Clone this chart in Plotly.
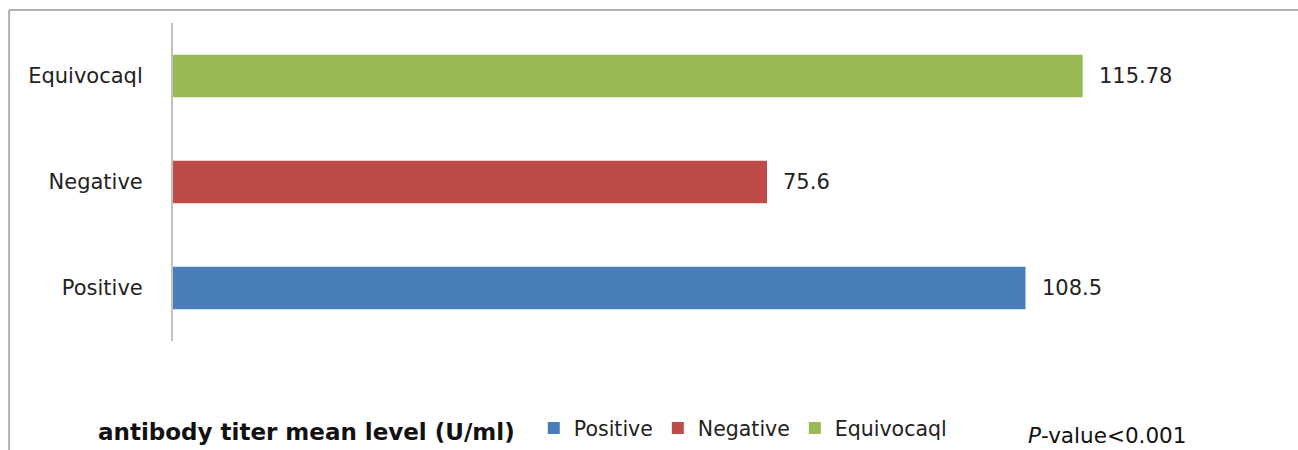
import plotly.graph_objects as go

categories = ["Positive", "Negative", "Equivocaql"]
values = [108.5, 75.6, 115.78]
value_labels = ["108.5", "75.6", "115.78"]
colors = ["#4a7ebb", "#be4b48", "#98b954"]
x_title = "antibody titer mean level (U/ml)"
p_text = "<i>P</i>-value<0.001"

FONT = "DejaVu Sans"
fig = go.Figure()
for c, v, col in zip(categories, values, colors):
    fig.add_trace(go.Bar(y=[c], x=[v], orientation="h", name=c,
                         marker=dict(color=col, line=dict(width=0)), width=0.4))

for c, v, t in zip(categories, values, value_labels):
    fig.add_annotation(x=v, y=c, text=t, showarrow=False, xanchor="left",
                       xshift=14, font=dict(family=FONT, size=21, color="#222"))

fig.add_annotation(xref="paper", yref="paper", x=0.1215, y=-0.286, text="<b>" + x_title + "</b>",
                   xanchor="center", yanchor="middle",
                   showarrow=False, font=dict(family=FONT, size=23, color="#111"))
fig.add_annotation(xref="paper", yref="paper", x=0.8495, y=-0.297, text=p_text,
                   xanchor="center", yanchor="middle",
                   showarrow=False, font=dict(family=FONT, size=21.5, color="#111"))

# frame
fig.add_shape(type="line", xref="paper", yref="paper", x0=-0.149, x1=-0.149, y0=-0.35, y1=1.041,
              line=dict(color="#b0b0b0", width=2))
fig.add_shape(type="line", xref="paper", yref="paper", x0=-0.149, x1=1.05, y0=1.041, y1=1.041,
              line=dict(color="#b0b0b0", width=2))

fig.update_layout(
    width=1298, height=450,
    margin=dict(l=173, r=25, t=23, b=109, autoexpand=False),
    plot_bgcolor="white", paper_bgcolor="white",
    barmode="overlay",
    showlegend=True,
    legend=dict(orientation="h", x=0.328, y=-0.274, xanchor="left", yanchor="middle",
                font=dict(family=FONT, size=20.5, color="#222"), traceorder="normal"),
    xaxis=dict(range=[0, 140], showgrid=False, showticklabels=False, zeroline=False,
               showline=False, ticks=""),
    yaxis=dict(categoryorder="array", categoryarray=categories, range=[-0.5, 2.5],
               showgrid=False, showline=True, linecolor="#c0c0c0", linewidth=2,
               ticks="", ticklabelstandoff=24,
               tickfont=dict(family=FONT, size=21, color="#222")),
)
fig.write_html("out.html")
